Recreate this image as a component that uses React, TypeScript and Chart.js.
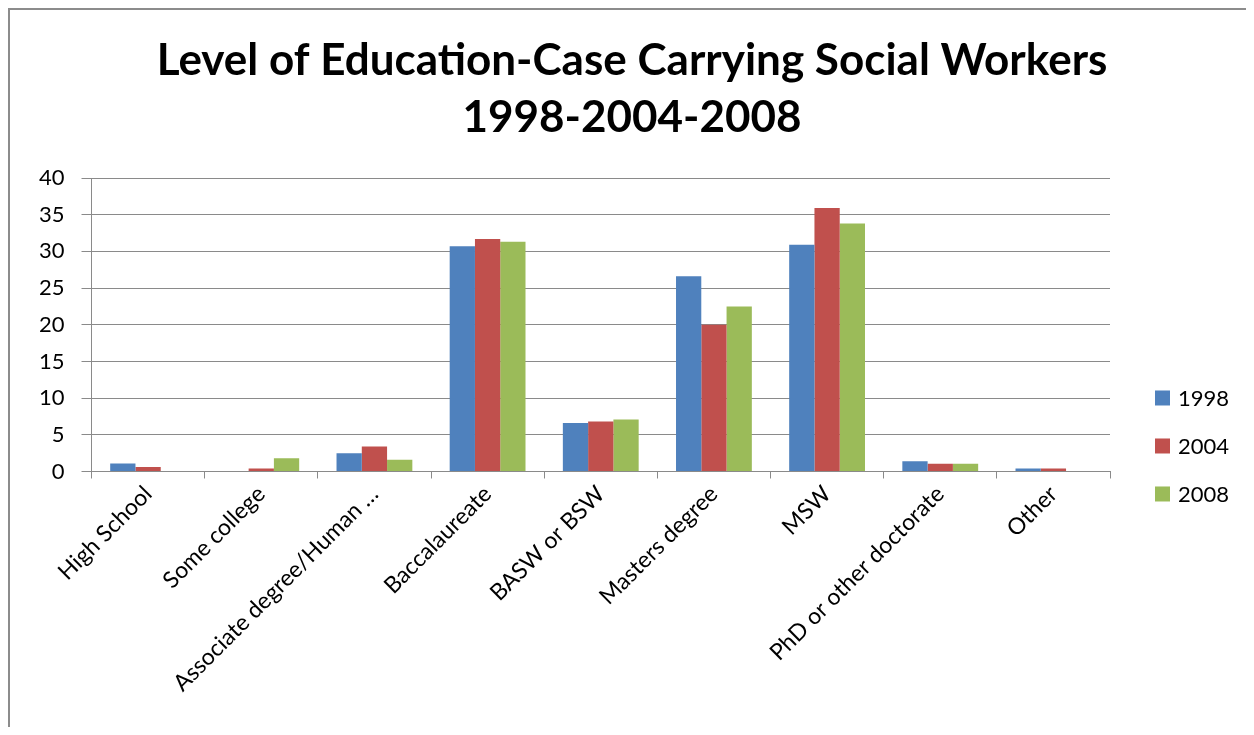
import React, { useEffect, useRef } from "react";
import { Chart, registerables } from "chart.js";

Chart.register(...registerables);

const categories = [
  "High School",
  "Some college",
  "Associate degree/Human …",
  "Baccalaureate",
  "BASW or BSW",
  "Masters degree",
  "MSW",
  "PhD or other doctorate",
  "Other",
];

const seriesLabels = ["1998", "2004", "2008"];

const values1998 = [1.1, 0, 2.5, 30.7, 6.6, 26.6, 30.9, 1.4, 0.4];
const values2004 = [0.6, 0.4, 3.4, 31.7, 6.8, 20.0, 35.9, 1.05, 0.4];
const values2008 = [0, 1.8, 1.6, 31.3, 7.1, 22.5, 33.8, 1.05, 0];

const seriesColors = ["#4F81BD", "#C0504D", "#9BBB59"];

const titleLines = ["Level of Education-Case Carrying Social Workers", "1998-2004-2008"];

const yTicks = [0, 5, 10, 15, 20, 25, 30, 35, 40];

const FONT = "Lato, 'Open Sans', sans-serif";

// Two-line title centred on the whole canvas
const centredTitle = {
  id: "centredTitle",
  afterDraw(chart: any) {
    const { ctx, width } = chart;
    ctx.save();
    ctx.font = `bold 44px ${FONT}`;
    ctx.fillStyle = "#000";
    ctx.textAlign = "center";
    ctx.textBaseline = "middle";
    titleLines.forEach((line, i) => {
      ctx.fillText(line, width / 2, 51 + i * 57);
    });
    ctx.restore();
  },
};

// Legend drawn at the right of the plot, lower half
const sideLegend = {
  id: "sideLegend",
  afterDraw(chart: any) {
    const { ctx, chartArea } = chart;
    ctx.save();
    ctx.font = `22px ${FONT}`;
    ctx.textBaseline = "middle";
    ctx.textAlign = "left";
    chart.data.datasets.forEach((ds: any, i: number) => {
      const x = chartArea.right + 45;
      const y = chartArea.bottom - 74 + i * 48;
      ctx.fillStyle = ds.backgroundColor;
      ctx.fillRect(x, y - 7, 15, 15);
      ctx.fillStyle = "#000";
      ctx.fillText(ds.label, x + 23, y + 1);
    });
    ctx.restore();
  },
};

export default function App() {
  const canvasRef = useRef<HTMLCanvasElement | null>(null);

  useEffect(() => {
    if (!canvasRef.current) return;
    const data = [values1998, values2004, values2008];
    const chart = new Chart(canvasRef.current, {
      type: "bar",
      data: {
        labels: categories,
        datasets: seriesLabels.map((label, i) => ({
          label,
          data: data[i],
          backgroundColor: seriesColors[i],
          borderWidth: 0,
          barPercentage: 1,
          categoryPercentage: 0.67,
        })),
      },
      plugins: [centredTitle, sideLegend],
      options: {
        animation: false,
        responsive: false,
        maintainAspectRatio: false,
        layout: { padding: { left: 12, right: 144, top: 168, bottom: 28 } },
        plugins: {
          legend: { display: false },
          tooltip: { enabled: false },
          title: { display: false },
        },
        scales: {
          x: {
            grid: {
              offset: true,
              drawOnChartArea: false,
              drawTicks: true,
              tickLength: 7,
              color: "#8a8a8a",
            },
            border: { color: "#8a8a8a", width: 1 },
            ticks: {
              color: "#000",
              font: { family: FONT, size: 23 },
              maxRotation: 45,
              minRotation: 45,
              autoSkip: false,
              padding: 2,
            },
          },
          y: {
            min: 0,
            max: 40,
            afterBuildTicks(scale: any) {
              scale.ticks = yTicks.map((v) => ({ value: v }));
            },
            grid: { color: "#8a8a8a", tickLength: 10, drawTicks: true },
            border: { color: "#8a8a8a", width: 1 },
            ticks: {
              color: "#000",
              font: { family: FONT, size: 22 },
              padding: 17,
            },
          },
        },
      },
    });
    return () => chart.destroy();
  }, []);

  return (
    <div
      style={{
        width: 1244,
        height: 717,
        borderLeft: "2px solid #8c8c8c",
        borderTop: "2px solid #8c8c8c",
        background: "#fff",
      }}
    >
      <canvas ref={canvasRef} width={1244} height={717} style={{ display: "block" }} />
    </div>
  );
}
